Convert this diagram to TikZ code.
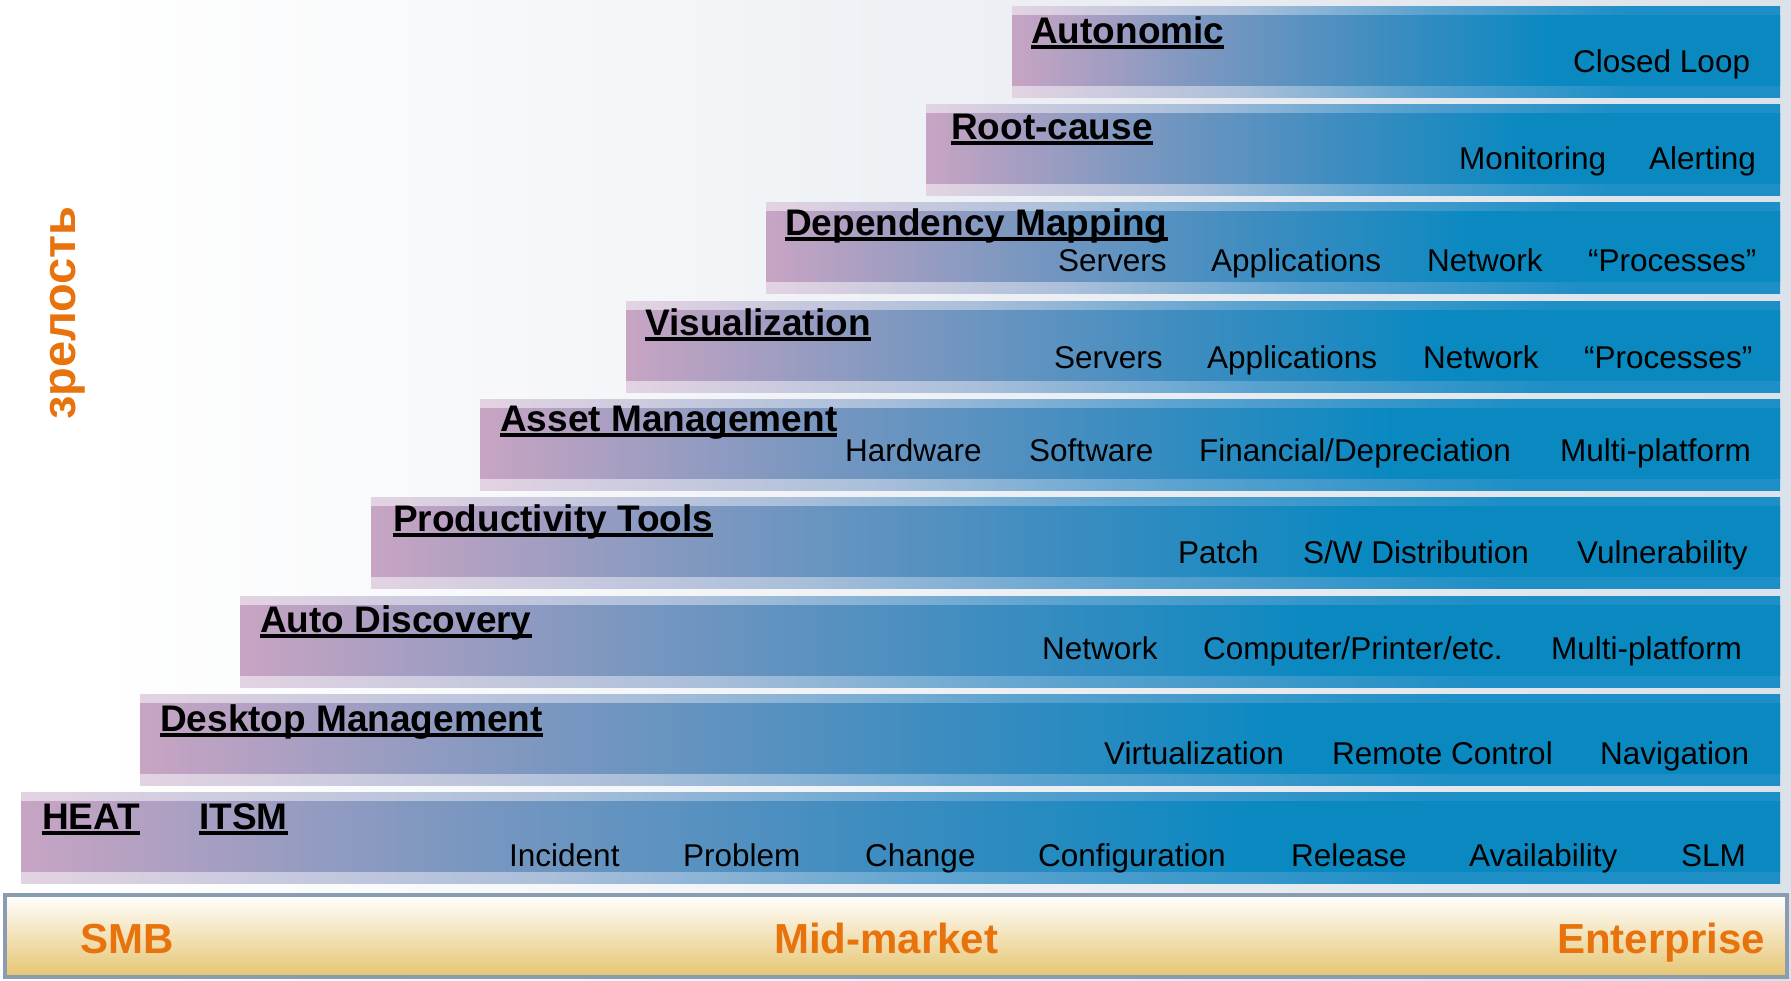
\documentclass[tikz,border=0pt]{standalone}
\usepackage{fontspec}
\setmainfont{Liberation Sans}
\definecolor{pinkc}{HTML}{C8A4C3}
\definecolor{midc}{HTML}{7A97C0}
\definecolor{midd}{HTML}{3A8CC0}
\definecolor{bluec}{HTML}{0A89C1}
\definecolor{pinkl}{HTML}{E3D3E2}
\definecolor{midl}{HTML}{AABFDA}
\definecolor{midm}{HTML}{5AA2CF}
\definecolor{bluel}{HTML}{1E8FC6}
\definecolor{orangec}{HTML}{E8720C}
\definecolor{bgr}{HTML}{DCE2EA}
\definecolor{framec}{HTML}{8A9DB0}
\definecolor{goldc}{HTML}{E6C571}
\definecolor{creamc}{HTML}{F6ECD0}
\pgfdeclarehorizontalshading{bardark}{100bp}{color(0bp)=(pinkc); color(25bp)=(pinkc); color(37.5bp)=(midc); color(50bp)=(midd); color(60bp)=(bluec); color(100bp)=(bluec)}
\pgfdeclarehorizontalshading{barlight}{100bp}{color(0bp)=(pinkl); color(25bp)=(pinkl); color(40bp)=(midl); color(52bp)=(midm); color(65bp)=(bluel); color(100bp)=(bluel)}
\newcommand\ulbar[1]{\setbox0=\hbox{#1}\rlap{\rule[-6pt]{\wd0}{4pt}}\box0}
\newcommand\stepbar[2]{%
  \shade[shading=barlight] (#1,#2) rectangle (1780,#2+91);
  \shade[shading=bardark] (#1,#2+9) rectangle (1780,#2+79);}
\begin{document}
\begin{tikzpicture}[x=1pt,y=-1pt,
  title/.style={anchor=base west, inner sep=0pt, font=\fontsize{37}{40}\selectfont\bfseries},
  item/.style={anchor=base west, inner sep=0pt, font=\fontsize{31.5}{34}\selectfont},
  market/.style={anchor=base west, inner sep=0pt, text=orangec, font=\fontsize{42}{46}\selectfont\bfseries}]
\useasboundingbox (0,0) rectangle (1791,980);
\fill[white] (0,0) rectangle (1791,980);
\shade[left color=white, right color=bgr] (90,0) rectangle (1791,980);
% bars
\stepbar{1012}{6}
\stepbar{926}{104}
\stepbar{766}{202}
\stepbar{626}{301}
\stepbar{480}{399}
\stepbar{371}{497}
\stepbar{240}{596}
\stepbar{140}{694}
\stepbar{21}{792}
% bar 1
\node[title] (t1) at (1031,43) {\ulbar{Autonomic}};
\node[item] (a1) at (1573,72) {Closed Loop};
% bar 2
\node[title] (t2) at (951,139) {\ulbar{Root-cause}};
\node[item] (b1) at (1459,169) {Monitoring};
\node[item] (b2) at (1649,169) {Alerting};
% bar 3
\node[title] (t3) at (785,235) {\ulbar{Dependency Mapping}};
\node[item] (c1) at (1058,271) {Servers};
\node[item] (c2) at (1211,271) {Applications};
\node[item] (c3) at (1427,271) {Network};
\node[item] (c4) at (1588,271) {“Processes”};
% bar 4
\node[title] (t4) at (645,335) {\ulbar{Visualization}};
\node[item] (d1) at (1054,368) {Servers};
\node[item] (d2) at (1207,368) {Applications};
\node[item] (d3) at (1423,368) {Network};
\node[item] (d4) at (1584,368) {“Processes”};
% bar 5
\node[title] (t5) at (500,431) {\ulbar{Asset Management}};
\node[item] (e1) at (845,461) {Hardware};
\node[item] (e2) at (1029,461) {Software};
\node[item] (e3) at (1199,461) {Financial/Depreciation};
\node[item] (e4) at (1560,461) {Multi-platform};
% bar 6
\node[title] (t6) at (393,531) {\ulbar{Productivity Tools}};
\node[item] (f1) at (1178,563) {Patch};
\node[item] (f2) at (1303,563) {S/W Distribution};
\node[item] (f3) at (1577,563) {Vulnerability};
% bar 7
\node[title] (t7) at (260,632) {\ulbar{Auto Discovery}};
\node[item] (g1) at (1042,659) {Network};
\node[item] (g2) at (1203,659) {Computer/Printer/etc.};
\node[item] (g3) at (1551,659) {Multi-platform};
% bar 8
\node[title] (t8) at (160,731) {\ulbar{Desktop Management}};
\node[item] (h1) at (1104,764) {Virtualization};
\node[item] (h2) at (1332,764) {Remote Control};
\node[item] (h3) at (1600,764) {Navigation};
% bar 9
\node[title] (t9a) at (42,829) {\ulbar{HEAT}};
\node[title] (t9b) at (199,829) {\ulbar{ITSM}};
\node[item] (i1) at (509,866) {Incident};
\node[item] (i2) at (683,866) {Problem};
\node[item] (i3) at (865,866) {Change};
\node[item] (i4) at (1038,866) {Configuration};
\node[item] (i5) at (1291,866) {Release};
\node[item] (i6) at (1469,866) {Availability};
\node[item] (i7) at (1681,866) {SLM};
% market bar
\shade[top color=white, middle color=creamc, bottom color=goldc] (5,895) rectangle (1787,977);
\draw[framec, line width=4pt] (5,895) rectangle (1787,977);
\node[market] (smb) at (80,953) {SMB};
\node[market] (mid) at (774,953) {Mid-market};
\node[market] (ent) at (1557,953) {Enterprise};
% vertical label
\node[rotate=90, anchor=base, inner sep=0pt, text=orangec, font=\fontsize{47}{50}\selectfont\bfseries] (mat) at (75,313) {зрелость};
\end{tikzpicture}
\end{document}
